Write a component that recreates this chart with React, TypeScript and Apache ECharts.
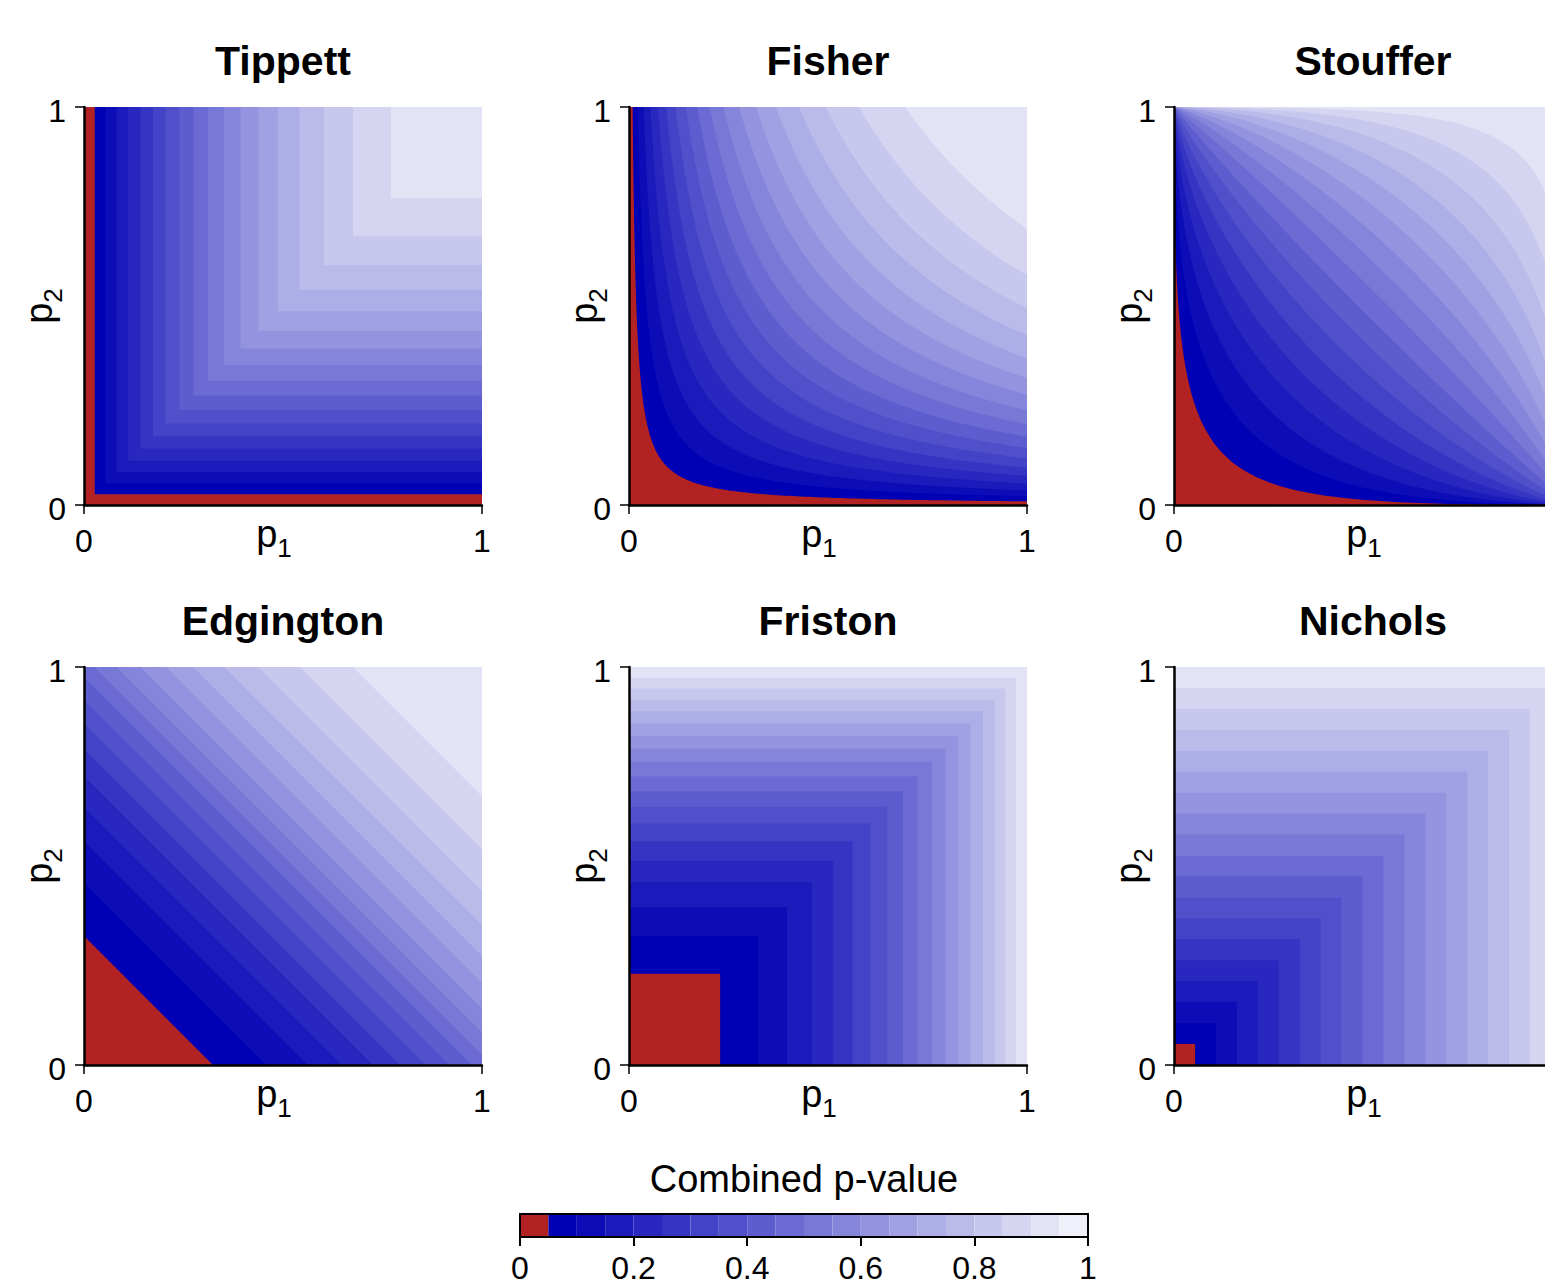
import React, { useEffect, useRef } from "react";
import * as echarts from "echarts";

const FONT = '"Liberation Sans", Arial, Helvetica, sans-serif';

// ---------------- data ----------------
const METHODS = ["Tippett", "Fisher", "Stouffer", "Edgington", "Friston", "Nichols"];
// shape family of the contour lines in each panel
const CONTOUR_FAMILY = ["min", "product", "normal", "sum", "max", "max"];

// position where each contour boundary crosses the diagonal p1 = p2
// (18 boundaries -> 19 coloured bands per panel)
const TIPPETT_DIAG = [0.027, 0.054, 0.082, 0.111, 0.142, 0.173, 0.205, 0.239, 0.275, 0.312, 0.351, 0.393, 0.438, 0.487, 0.541, 0.603, 0.676, 0.771];
const FISHER_DIAG = [0.096, 0.148, 0.192, 0.232, 0.27, 0.306, 0.342, 0.378, 0.414, 0.45, 0.487, 0.526, 0.565, 0.607, 0.653, 0.703, 0.76, 0.833];
const STOUFFER_DIAG = [0.126, 0.188, 0.239, 0.285, 0.327, 0.367, 0.406, 0.444, 0.481, 0.519, 0.556, 0.594, 0.633, 0.673, 0.715, 0.761, 0.812, 0.874];
const EDGINGTON_DIAG = [0.162, 0.229, 0.281, 0.324, 0.363, 0.397, 0.429, 0.459, 0.487, 0.513, 0.541, 0.571, 0.603, 0.637, 0.676, 0.719, 0.771, 0.838];
const FRISTON_DIAG = [0.229, 0.324, 0.397, 0.459, 0.513, 0.562, 0.607, 0.649, 0.688, 0.725, 0.761, 0.795, 0.827, 0.858, 0.889, 0.918, 0.946, 0.973];
const NICHOLS_DIAG = [0.053, 0.105, 0.158, 0.211, 0.263, 0.316, 0.368, 0.421, 0.474, 0.526, 0.579, 0.632, 0.684, 0.737, 0.789, 0.842, 0.895, 0.947];
const PANEL_DIAG = [TIPPETT_DIAG, FISHER_DIAG, STOUFFER_DIAG, EDGINGTON_DIAG, FRISTON_DIAG, NICHOLS_DIAG];

// colour scale: red for the lowest step, then blues from dark to light
const BAND_COLORS = [
  "#B22222", "#0000B4", "#0D0DB8", "#1B1BBC", "#2828C0", "#3535C4", "#4343C7",
  "#5050CB", "#5D5DCF", "#6B6BD3", "#7878D7", "#8585DB", "#9393DF", "#A0A0E3",
  "#ADADE7", "#BBBBEA", "#C8C8EE", "#D5D5F2", "#E3E3F6", "#F0F0FA",
];
const COLORBAR_BREAKS = [0, 0.05, 0.1, 0.15, 0.2, 0.25, 0.3, 0.35, 0.4, 0.45, 0.5, 0.55, 0.6, 0.65, 0.7, 0.75, 0.8, 0.85, 0.9, 0.95, 1];
const COLORBAR_TITLE = "Combined p-value";

// ---------------- layout ----------------
const W = 1545;
const H = 1286;
const PANEL_LEFTS = [84, 629, 1174];
const PANEL_TOPS = [107, 667];
const PANEL_SIZE = 398;
const CB_LEFT = 520;
const CB_TOP = 1214;
const CB_WIDTH = 568;
const CB_HEIGHT = 23;

// ---------------- curve helpers ----------------
function erfc(x: number): number {
  const z = Math.abs(x);
  const t = 1 / (1 + 0.5 * z);
  const r =
    t *
    Math.exp(
      -z * z - 1.26551223 +
        t * (1.00002368 + t * (0.37409196 + t * (0.09678418 + t * (-0.18628806 + t * (0.27886807 + t * (-1.13520398 + t * (1.48851587 + t * (-0.82215223 + t * 0.17087277))))))))
    );
  return x >= 0 ? r : 2 - r;
}
function upperTail(z: number): number {
  return 0.5 * erfc(z / Math.SQRT2);
}
function qnorm(p: number): number {
  const a = [-39.69683028665376, 220.9460984245205, -275.9285104469687, 138.357751867269, -30.66479806614716, 2.506628277459239];
  const b = [-54.47609879822406, 161.5858368580409, -155.6989798598866, 66.80131188771972, -13.28068155288572];
  const c = [-0.007784894002430293, -0.3223964580411365, -2.400758277161838, -2.549732539343734, 4.374664141464968, 2.938163982698783];
  const d = [0.007784695709041462, 0.3224671290700398, 2.445134137142996, 3.754408661907416];
  const pl = 0.02425;
  if (p < pl) {
    const q = Math.sqrt(-2 * Math.log(p));
    return (((((c[0] * q + c[1]) * q + c[2]) * q + c[3]) * q + c[4]) * q + c[5]) / ((((d[0] * q + d[1]) * q + d[2]) * q + d[3]) * q + 1);
  }
  if (p <= 1 - pl) {
    const q = p - 0.5;
    const r = q * q;
    return ((((((a[0] * r + a[1]) * r + a[2]) * r + a[3]) * r + a[4]) * r + a[5]) * q) / (((((b[0] * r + b[1]) * r + b[2]) * r + b[3]) * r + b[4]) * r + 1);
  }
  const q = Math.sqrt(-2 * Math.log(1 - p));
  return -(((((c[0] * q + c[1]) * q + c[2]) * q + c[3]) * q + c[4]) * q + c[5]) / ((((d[0] * q + d[1]) * q + d[2]) * q + d[3]) * q + 1);
}

// region of the unit square lying below the contour that crosses the diagonal at d
function bandPolygon(family: string, d: number): number[][] {
  if (family === "min") {
    return [[0, 0], [1, 0], [1, d], [d, d], [d, 1], [0, 1]];
  }
  if (family === "max") {
    return [[0, 0], [d, 0], [d, d], [0, d]];
  }
  if (family === "sum") {
    const s = 2 * d;
    if (s <= 1) return [[0, 0], [s, 0], [0, s]];
    return [[0, 0], [1, 0], [1, s - 1], [s - 1, 1], [0, 1]];
  }
  if (family === "product") {
    const c = d * d;
    const pts: number[][] = [[0, 0], [1, 0]];
    const N = 200;
    for (let i = 0; i <= N; i++) {
      const x = Math.pow(c, i / N);
      pts.push([x, c / x]);
    }
    pts.push([0, 1]);
    return pts;
  }
  // normal (Stouffer)
  const z = qnorm(1 - d);
  const pts: number[][] = [[0, 0], [0, 1]];
  const N = 300;
  for (let i = 0; i <= N; i++) {
    const u = 7 - (14 * i) / N;
    pts.push([upperTail(z + u), upperTail(z - u)]);
  }
  pts.push([1, 0]);
  return pts;
}

const SQUARE = [[0, 0], [1, 0], [1, 1], [0, 1]];

function buildOption() {
  const grids: any[] = [];
  const xAxes: any[] = [];
  const yAxes: any[] = [];
  const series: any[] = [];
  const graphics: any[] = [];

  const axisCommon = {
    type: "value",
    min: 0,
    max: 1,
    interval: 1,
    z: 5,
    splitLine: { show: false },
    axisLine: { show: true, onZero: false, lineStyle: { color: "#000", width: 2.5 } },
    axisTick: { show: true, length: 9, lineStyle: { color: "#000", width: 1.5 } },
    nameMoveOverlap: false,
  };

  const nameStyle = (padding: number[]) => ({
    color: "#000",
    fontFamily: FONT,
    padding,
    rich: {
      p: { fontSize: 38, fontFamily: FONT, color: "#000", padding: [0, 0, 8, 0] },
      s: { fontSize: 26, fontFamily: FONT, color: "#000", padding: [20, 0, 0, 0] },
    },
  });

  METHODS.forEach((method, i) => {
    const col = i % 3;
    const row = Math.floor(i / 3);
    const left = PANEL_LEFTS[col];
    const top = PANEL_TOPS[row];
    // the right-most column runs past the page edge, as in the reference
    const rightEdgeCut = left + PANEL_SIZE > W;
    grids.push({
      left,
      top,
      width: PANEL_SIZE,
      height: PANEL_SIZE,
      show: false,
      containLabel: false,
      outerBoundsMode: "none",
    });
    xAxes.push({
      ...axisCommon,
      gridIndex: i,
      position: "bottom",
      axisLabel: {
        fontSize: 32,
        fontFamily: FONT,
        color: "#000",
        margin: 20,
        showMaxLabel: !rightEdgeCut,
      },
      name: "{p|p}{s|1}",
      nameLocation: "middle",
      nameGap: 10,
      nameTextStyle: nameStyle([0, 18, 0, 0]),
    });
    yAxes.push({
      ...axisCommon,
      gridIndex: i,
      position: "left",
      axisLabel: {
        fontSize: 32,
        fontFamily: FONT,
        color: "#000",
        margin: 18,
        formatter: "{v|{value}}",
        rich: { v: { fontSize: 32, fontFamily: FONT, color: "#000", padding: [8, 0, 0, 0] } },
      },
      name: "{p|p}{s|2}",
      nameLocation: "middle",
      nameGap: 18,
      nameTextStyle: nameStyle([0, 0, 0, 0]),
    });

    const diag = PANEL_DIAG[i];
    const family = CONTOUR_FAMILY[i];
    const items: number[][] = [[0.5, 0.5, -1]];
    for (let j = diag.length - 1; j >= 0; j--) items.push([0.5, 0.5, j]);
    series.push({
      type: "custom",
      xAxisIndex: i,
      yAxisIndex: i,
      z: 1,
      silent: true,
      encode: { x: 0, y: 1 },
      data: items,
      renderItem: (_params: any, api: any) => {
        const j = api.value(2);
        const pts = j < 0 ? SQUARE : bandPolygon(family, diag[j]);
        return {
          type: "polygon",
          shape: { points: pts.map((p) => api.coord(p)) },
          style: { fill: j < 0 ? BAND_COLORS[diag.length] : BAND_COLORS[j], stroke: null },
        };
      },
    });

    graphics.push({
      type: "text",
      x: left + PANEL_SIZE / 2,
      y: top - 46,
      style: {
        text: method,
        fill: "#000",
        fontSize: 41,
        fontWeight: "bold",
        fontFamily: FONT,
        align: "center",
        verticalAlign: "middle",
        textAlign: "center",
        textVerticalAlign: "middle",
      },
    });
  });

  // colour bar
  const cbIndex = METHODS.length;
  grids.push({
    left: CB_LEFT,
    top: CB_TOP,
    width: CB_WIDTH,
    height: CB_HEIGHT,
    show: false,
    containLabel: false,
    outerBoundsMode: "none",
  });
  xAxes.push({
    type: "value",
    gridIndex: cbIndex,
    min: 0,
    max: 1,
    interval: 0.2,
    z: 5,
    splitLine: { show: false },
    axisLine: { show: true, onZero: false, lineStyle: { color: "#000", width: 2 } },
    axisTick: { show: true, length: 9, lineStyle: { color: "#000", width: 2 } },
    axisLabel: { fontSize: 32, fontFamily: FONT, color: "#000", margin: 15 },
  });
  yAxes.push({ type: "value", gridIndex: cbIndex, min: 0, max: 1, show: false });
  const cbItems: number[][] = [];
  for (let k = 0; k < COLORBAR_BREAKS.length - 1; k++) {
    cbItems.push([COLORBAR_BREAKS[k], COLORBAR_BREAKS[k + 1], k]);
  }
  cbItems.push([0, 1, -1]);
  series.push({
    type: "custom",
    xAxisIndex: cbIndex,
    yAxisIndex: cbIndex,
    z: 1,
    silent: true,
    encode: { x: [0, 1] },
    data: cbItems,
    renderItem: (_params: any, api: any) => {
      const lo = api.value(0);
      const hi = api.value(1);
      const k = api.value(2);
      const p0 = api.coord([lo, 1]);
      const p1 = api.coord([hi, 0]);
      if (k < 0) {
        return {
          type: "rect",
          z2: 10,
          shape: { x: p0[0], y: p0[1], width: p1[0] - p0[0], height: p1[1] - p0[1] },
          style: { fill: "none", stroke: "#000", lineWidth: 2 },
        };
      }
      return {
        type: "rect",
        shape: { x: p0[0], y: p0[1], width: p1[0] - p0[0], height: p1[1] - p0[1] },
        style: { fill: BAND_COLORS[k], stroke: null },
      };
    },
  });
  graphics.push({
    type: "text",
    x: CB_LEFT + CB_WIDTH / 2,
    y: CB_TOP - 35,
    style: {
      text: COLORBAR_TITLE,
      fill: "#000",
      fontSize: 38,
      fontFamily: FONT,
      align: "center",
      verticalAlign: "middle",
      textAlign: "center",
      textVerticalAlign: "middle",
    },
  });

  return {
    animation: false,
    backgroundColor: "#ffffff",
    grid: grids,
    xAxis: xAxes,
    yAxis: yAxes,
    series,
    graphic: graphics,
  };
}

export default function App() {
  const ref = useRef<HTMLDivElement>(null);
  useEffect(() => {
    if (!ref.current) return;
    const chart = echarts.init(ref.current, null, { renderer: "svg" });
    chart.setOption(buildOption() as any);
    return () => chart.dispose();
  }, []);
  return (
    <div
      ref={ref}
      style={{ position: "absolute", left: 0, top: 0, width: W, height: H, overflow: "hidden", background: "#fff" }}
    />
  );
}
